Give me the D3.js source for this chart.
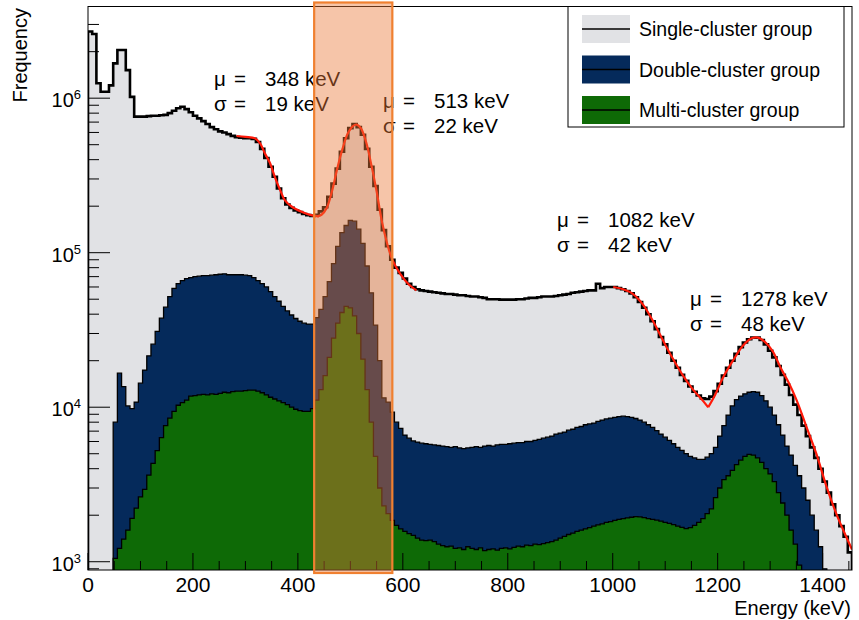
<!DOCTYPE html>
<html><head><meta charset="utf-8">
<script src="https://cdn.jsdelivr.net/npm/d3@7"></script>
<style>body{margin:0;background:#fff}svg{display:block}text{font-family:"Liberation Sans",Arial,sans-serif;fill:#000}</style>
</head><body><svg id="c" width="859" height="620"></svg>
<script>
// ---------------- data ----------------
const binWidth = 8; // keV
const singleStart = 0;
const singleCluster = [
2.7e6,2.6e6,1.25e6,1.10e6,1.10e6,1.21e6,1.68e6,2.05e6,2.05e6,1.52e6,
1.02e6,7.6e5,7.6e5,7.6e5,7.65e5,7.7e5,7.7e5,7.75e5,7.8e5,8.0e5,
8.3e5,8.6e5,8.8e5,8.5e5,8.1e5,7.7e5,7.4e5,7.1e5,6.8e5,6.5e5,
6.3e5,6.1e5,6.0e5,5.85e5,5.7e5,5.6e5,5.55e5,5.5e5,5.5e5,5.45e5,
5.2e5,4.7e5,4.1e5,3.6e5,3.1e5,2.6e5,2.25e5,2.05e5,1.95e5,1.88e5,
1.83e5,1.78e5,1.75e5,1.73e5,1.76e5,1.85e5,1.97e5,2.3e5,2.8e5,3.5e5,
4.5e5,5.5e5,6.4e5,6.8e5,6.5e5,5.8e5,4.7e5,3.6e5,2.7e5,1.9e5,
1.4e5,1.1e5,9.0e4,8.0e4,7.4e4,6.8e4,6.3e4,6.0e4,5.8e4,5.7e4,
5.65e4,5.6e4,5.55e4,5.5e4,5.45e4,5.4e4,5.4e4,5.35e4,5.3e4,5.3e4,
5.25e4,5.2e4,5.2e4,5.15e4,5.1e4,5.0e4,5.0e4,5.0e4,4.97e4,4.97e4,
4.97e4,4.97e4,5.0e4,5.0e4,5.05e4,5.1e4,5.1e4,5.15e4,5.2e4,5.2e4,
5.2e4,5.25e4,5.3e4,5.35e4,5.4e4,5.5e4,5.55e4,5.6e4,5.65e4,5.7e4,
5.7e4,6.3e4,5.9e4,6.0e4,6.0e4,6.0e4,5.9e4,5.8e4,5.65e4,5.45e4,
5.15e4,4.8e4,4.4e4,4.0e4,3.6e4,3.2e4,2.85e4,2.55e4,2.25e4,2.0e4,
1.8e4,1.62e4,1.48e4,1.36e4,1.26e4,1.19e4,1.14e4,1.13e4,1.17e4,1.27e4,
1.42e4,1.6e4,1.8e4,2.0e4,2.22e4,2.45e4,2.62e4,2.75e4,2.82e4,2.82e4,
2.72e4,2.55e4,2.32e4,2.1e4,1.85e4,1.62e4,1.4e4,1.2e4,1.04e4,8.9e3,
7.6e3,6.5e3,5.5e3,4.7e3,4.0e3,3.3e3,2.8e3,2.35e3,2.0e3,1.7e3,
1.45e3,1.15e3];

const doubleStart = 48;
const doubleCluster = [
8.0e3,1.66e4,1.36e4,1.02e4,
9.8e3,1.08e4,1.43e4,1.74e4,2.15e4,2.56e4,3.1e4,3.77e4,4.44e4,5.19e4,
5.87e4,6.3e4,6.6e4,6.8e4,6.9e4,7.0e4,7.05e4,7.1e4,7.1e4,7.15e4,
7.2e4,7.25e4,7.3e4,7.2e4,7.2e4,7.2e4,7.2e4,7.15e4,7.1e4,6.9e4,
6.6e4,6.3e4,6.0e4,5.6e4,5.2e4,4.85e4,4.5e4,4.2e4,3.95e4,3.75e4,
3.6e4,3.5e4,3.45e4,3.45e4,3.8e4,4.3e4,5.2e4,6.5e4,8.5e4,1.1e5,
1.35e5,1.5e5,1.62e5,1.6e5,1.42e5,1.15e5,8.2e4,5.5e4,3.4e4,2.0e4,
1.15e4,1.08e4,9.3e3,8.0e3,7.3e3,6.6e3,6.3e3,6.05e3,5.95e3,5.85e3,
5.8e3,5.75e3,5.7e3,5.65e3,5.6e3,5.55e3,5.5e3,5.55e3,5.45e3,5.4e3,
5.45e3,5.5e3,5.55e3,5.5e3,5.6e3,5.65e3,5.6e3,5.7e3,5.75e3,5.75e3,
5.8e3,5.85e3,5.9e3,5.9e3,6.0e3,6.0e3,6.1e3,6.2e3,6.3e3,6.4e3,
6.5e3,6.7e3,6.8e3,6.9e3,7.1e3,7.2e3,7.4e3,7.5e3,7.7e3,7.8e3,
7.9e3,8.1e3,8.25e3,8.4e3,8.5e3,8.6e3,8.7e3,8.75e3,8.7e3,8.6e3,
8.45e3,8.25e3,8.0e3,7.7e3,7.4e3,7.05e3,6.7e3,6.4e3,6.1e3,5.8e3,
5.5e3,5.25e3,5.0e3,4.8e3,4.7e3,4.6e3,4.6e3,4.75e3,5.0e3,5.5e3,
6.5e3,7.6e3,8.9e3,1.02e4,1.12e4,1.18e4,1.22e4,1.25e4,1.26e4,1.25e4,
1.19e4,1.1e4,1.0e4,8.9e3,7.7e3,6.6e3,5.6e3,4.9e3,4.2e3,3.6e3,
3.0e3,2.5e3,2.0e3,1.6e3,1.25e3,9.0e2];

const multiStart = 48;
const multiCluster = [
1.05e3,1.22e3,1.40e3,1.6e3,
1.91e3,2.22e3,2.63e3,2.94e3,3.64e3,4.33e3,5.23e3,6.35e3,7.6e3,8.5e3,
9.4e3,1.03e4,1.07e4,1.11e4,1.18e4,1.19e4,1.2e4,1.21e4,1.2e4,1.22e4,
1.21e4,1.23e4,1.25e4,1.24e4,1.26e4,1.27e4,1.27e4,1.28e4,1.29e4,1.29e4,
1.27e4,1.24e4,1.2e4,1.16e4,1.13e4,1.1e4,1.07e4,1.04e4,1.0e4,9.7e3,
9.5e3,9.4e3,9.4e3,9.8e3,1.11e4,1.3e4,1.6e4,2.1e4,2.8e4,3.5e4,
4.1e4,4.5e4,4.4e4,3.9e4,3.0e4,2.05e4,1.3e4,8.0e3,4.8e3,3.0e3,
2.3e3,2.05e3,1.85e3,1.72e3,1.63e3,1.57e3,1.52e3,1.48e3,1.42e3,1.38e3,
1.37e3,1.38e3,1.35e3,1.3e3,1.27e3,1.25e3,1.26e3,1.22e3,1.23e3,1.2e3,
1.25e3,1.22e3,1.2e3,1.23e3,1.18e3,1.2e3,1.21e3,1.19e3,1.22e3,1.23e3,
1.21e3,1.24e3,1.26e3,1.25e3,1.28e3,1.27e3,1.3e3,1.29e3,1.31e3,1.33e3,
1.35e3,1.38e3,1.42e3,1.46e3,1.5e3,1.53e3,1.57e3,1.6e3,1.63e3,1.66e3,
1.7e3,1.73e3,1.76e3,1.8e3,1.82e3,1.85e3,1.88e3,1.9e3,1.92e3,1.94e3,
1.96e3,1.95e3,1.93e3,1.9e3,1.88e3,1.86e3,1.83e3,1.8e3,1.77e3,1.74e3,
1.7e3,1.67e3,1.64e3,1.66e3,1.72e3,1.8e3,1.9e3,2.05e3,2.2e3,2.6e3,
3.0e3,3.4e3,3.6e3,3.9e3,4.25e3,4.55e3,4.8e3,4.95e3,4.9e3,4.7e3,
4.4e3,4.0e3,3.7e3,3.3e3,2.8e3,2.4e3,2.0e3,1.6e3,1.3e3,9.5e2];

// fitted curves, sampled [energy keV, frequency]
const fit348 = [[283,5.69e5],[300,5.62e5],[318,5.5e5],[328,5.1e5],[337,4.4e5],[347,3.79e5],[356,3.1e5],[366,2.55e5],[375,2.19e5],[388,1.99e5],[407,1.84e5],[425,1.75e5],[440,1.72e5]];
const fit513 = [[437,1.72e5],[445,1.76e5],[455,1.95e5],[465,2.5e5],[475,3.5e5],[485,4.7e5],[495,5.9e5],[505,6.6e5],[512,6.75e5],[520,6.4e5],[530,5.2e5],[540,3.7e5],[550,2.5e5],[560,1.6e5],[570,1.15e5],[580,9.0e4],[595,7.3e4],[610,6.3e4],[626,5.7e4]];
const fit1082 = [[1001,6.0e4],[1020,5.8e4],[1039,5.4e4],[1058,4.6e4],[1077,3.6e4],[1096,2.7e4],[1115,2.05e4],[1134,1.6e4],[1153,1.3e4],[1170,1.12e4],[1182,1.0e4]];
const fit1278 = [[1182,1.0e4],[1195,1.2e4],[1210,1.55e4],[1229,2.0e4],[1248,2.5e4],[1264,2.78e4],[1277,2.82e4],[1290,2.65e4],[1305,2.3e4],[1320,1.8e4],[1335,1.45e4],[1350,1.12e4],[1369,7.5e3],[1388,5.0e3],[1407,3.1e3],[1426,2.05e3],[1445,1.45e3],[1456,1.2e3]];

const fitMu = [348, 513, 1082, 1278];
const fitSigma = [19, 22, 42, 48];

const seriesNames = ["Single-cluster group","Double-cluster group","Multi-cluster group"];
const xTickValues = [0,200,400,600,800,1000,1200,1400];
const yTickExponents = [3,4,5,6];
const bandRange = [431, 580];
const xMax = 1456;

// ---------------- drawing ----------------
const svg = d3.select("#c");
const L = 88, R = 852, T = 6.5, B = 570;
const x = d3.scaleLinear().domain([0, xMax]).range([L, R]);
const y = d3.scaleLog().domain([884, 3.92e6]).range([B, T]).clamp(true);

svg.append("defs").append("clipPath").attr("id","pc")
  .append("rect").attr("x",L).attr("y",T).attr("width",R-L).attr("height",B-T);

function stepPoints(start, vals){
  const pts = [[x(start), B]];
  vals.forEach((v,i)=>{
    const e0 = start + i*binWidth, e1 = e0 + binWidth;
    pts.push([x(e0), y(v)], [x(Math.min(e1,xMax)), y(v)]);
  });
  pts.push([x(Math.min(start + vals.length*binWidth, xMax)), B]);
  return pts;
}
const line = d3.line();
const g = svg.append("g").attr("clip-path","url(#pc)");

const hists = [
  {start:singleStart, vals:singleCluster, fill:"#e1e2e5", sw:2.6},
  {start:doubleStart, vals:doubleCluster, fill:"#052a5b", sw:1.3},
  {start:multiStart, vals:multiCluster, fill:"#0e6a06", sw:1.3}
];
hists.forEach(h=>{
  const pts = stepPoints(h.start, h.vals);
  g.append("path").attr("d", line(pts)+"Z").attr("fill",h.fill).attr("stroke","none");
  g.append("path").attr("d", line(pts)).attr("fill","none").attr("stroke","#000")
    .attr("stroke-width",h.sw).attr("stroke-linejoin","miter");
});

// fits
const fl = d3.line().x(d=>x(d[0])).y(d=>y(d[1])).curve(d3.curveCatmullRom);
[fit348, fit513, fit1082, fit1278].forEach(f=>{
  g.append("path").attr("d", fl(f)).attr("fill","none").attr("stroke","#ff1a0a").attr("stroke-width",2.2);
});

// frame
svg.append("rect").attr("x",L).attr("y",T).attr("width",R-L).attr("height",B-T)
  .attr("fill","none").attr("stroke","#000").attr("stroke-width",1);

// x ticks
const xt = svg.append("g");
d3.range(0, xMax+1, 50).forEach(v=>{
  const major = v % 200 === 0;
  xt.append("line").attr("x1",x(v)).attr("x2",x(v)).attr("y1",B).attr("y2",B-(major?17:9))
    .attr("stroke","#000").attr("stroke-width",1);
});
xTickValues.forEach(v=>{
  xt.append("text").attr("x",x(v)).attr("y",592).attr("text-anchor","middle")
    .attr("font-size",21).text(v);
});
svg.append("text").attr("x",851).attr("y",615).attr("text-anchor","end").attr("font-size",20).text("Energy (keV)");

// y ticks
const yt = svg.append("g");
for(let e=2;e<=6;e++){
  for(let k=1;k<10;k++){
    const v = k*Math.pow(10,e);
    if(v < y.domain()[0] || v > y.domain()[1]) continue;
    const major = k===1;
    yt.append("line").attr("x1",L).attr("x2",L+(major?22:11)).attr("y1",y(v)).attr("y2",y(v))
      .attr("stroke","#000").attr("stroke-width",1);
  }
}
yTickExponents.forEach(e=>{
  const t = yt.append("text").attr("x",81).attr("y",y(Math.pow(10,e))+9).attr("text-anchor","end").attr("font-size",20);
  t.append("tspan").text("10");
  t.append("tspan").attr("dy",-8).attr("font-size",13).text(e);
});
svg.append("text").attr("transform","translate(27,8) rotate(-90)").attr("text-anchor","end")
  .attr("font-size",20).text("Frequency");

// annotations
const annPos = [[214,86],[383,108],[557,227],[690,306]];
fitMu.forEach((mu,i)=>{
  const [ax,ay] = annPos[i];
  const t1 = svg.append("text").attr("y",ay).attr("font-size",20.5);
  t1.append("tspan").attr("x",ax).text("\u03bc");
  t1.append("tspan").attr("x",ax+20).text("=");
  t1.append("tspan").attr("x",ax+51).text(mu+" keV");
  const t2 = svg.append("text").attr("y",ay+24.5).attr("font-size",20.5);
  t2.append("tspan").attr("x",ax).text("\u03c3");
  t2.append("tspan").attr("x",ax+20).text("=");
  t2.append("tspan").attr("x",ax+51).text(fitSigma[i]+" keV");
});

// selection band
svg.append("rect").attr("x",x(bandRange[0])).attr("y",2.5).attr("width",x(bandRange[1])-x(bandRange[0])).attr("height",570.5)
  .attr("fill","#eb7837").attr("fill-opacity",0.43).attr("stroke","#f08030").attr("stroke-width",2.2);

// legend
const lg = svg.append("g");
lg.append("rect").attr("x",568).attr("y",T).attr("width",844-568).attr("height",127-T)
  .attr("fill","#fff").attr("stroke","#000").attr("stroke-width",1);
const legFills = hists.map(h=>h.fill);
seriesNames.forEach((n,i)=>{
  const yy = 15 + i*40.5;
  lg.append("rect").attr("x",582).attr("y",yy).attr("width",48).attr("height",28).attr("fill",legFills[i]);
  lg.append("line").attr("x1",582).attr("x2",630).attr("y1",yy+14).attr("y2",yy+14).attr("stroke","#000").attr("stroke-width",1.3);
  lg.append("text").attr("x",639).attr("y",yy+21).attr("font-size",19.5).text(n);
});
</script></body></html>
